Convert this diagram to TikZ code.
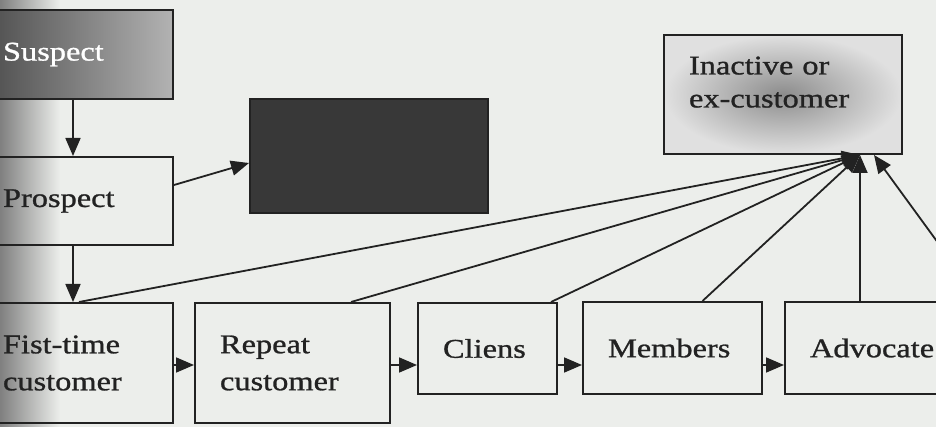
\documentclass[tikz,border=0pt]{standalone}
\usepackage{fontspec}
\setmainfont{Liberation Serif}[FakeStretch=1.2,FakeBold=1]
\usetikzlibrary{arrows.meta}
\definecolor{paper}{RGB}{236,238,235}
\definecolor{ink}{RGB}{34,34,34}

\begin{document}
\begin{tikzpicture}[x=1pt,y=-1pt,
  box/.style={draw=ink, line width=2pt, rectangle, align=left, inner xsep=25pt,
    inner ysep=0pt, font=\fontsize{27}{37}\selectfont, text=ink},
  edgebox/.style={box, inner xsep=30pt, text width=140pt},
  flow/.style={draw=ink, line width=1.8pt, -{Triangle[length=18pt,width=15pt]}}]
  \useasboundingbox (0,0) rectangle (936,427);
  \clip (0,0) rectangle (936,427);
  \fill[paper] (0,0) rectangle (936,427);
  \shade[left color=black!50, right color=paper] (0,0) rectangle (60,427);

  \node[edgebox, minimum height=89pt, left color=black!72, right color=black!30, text=white!92] (suspect) at (73,54.5) {Suspect};
  \node[edgebox, minimum height=88pt] (prospect) at (73,201) {Prospect};
  \node[edgebox, minimum height=120pt] (firsttime) at (73,363) {Fist-time\\customer};
  \node[box, text width=145pt, minimum height=120pt] (repeat) at (292.5,363) {Repeat\\customer};
  \node[box, text width=89pt, minimum height=91pt] (cliens) at (487.5,348.5) {Cliens};
  \node[box, text width=129pt, minimum height=92pt] (members) at (672.5,348) {Members};
  \node[box, text width=125pt, minimum height=92pt] (advocate) at (872.5,348) {Advocate};
  \node[box, inner xsep=0pt, minimum width=238pt, minimum height=114pt, fill=black!78] (dark) at (369,156) {};
  \node[box, text width=188pt, minimum height=119pt, text depth=58pt, font=\fontsize{27}{33}\selectfont,
    inner color=black!45, outer color=black!12] (inactive) at (783,94.5) {Inactive or\\ex-customer};

  \coordinate (hub) at ([xshift=-43pt]inactive.south east);
  \coordinate (beyond) at (952,262);

  \draw[flow] (suspect) -- (prospect);
  \draw[flow] (prospect) -- (firsttime);
  \draw[flow] ([yshift=16pt]prospect.east) -- ([yshift=-7pt]dark.west);
  \draw[flow] (firsttime.east |- 0,365) -- (repeat.west |- 0,365);
  \draw[flow] (repeat.east |- 0,365) -- (cliens.west |- 0,365);
  \draw[flow] (cliens.east |- 0,365) -- (members.west |- 0,365);
  \draw[flow] (members.east |- 0,365) -- (advocate.west |- 0,365);

  \draw[flow] ([xshift=6pt]firsttime.north) -- (hub);
  \draw[flow] ([xshift=-40pt]repeat.north east) -- (hub);
  \draw[flow] ([xshift=-7pt]cliens.north east) -- (hub);
  \draw[flow] ([xshift=30pt]members.north) -- (hub);
  \draw[flow] (hub |- advocate.north) -- (hub);
  \draw[flow] (beyond) -- ([xshift=14pt]hub);
\end{tikzpicture}
\end{document}
